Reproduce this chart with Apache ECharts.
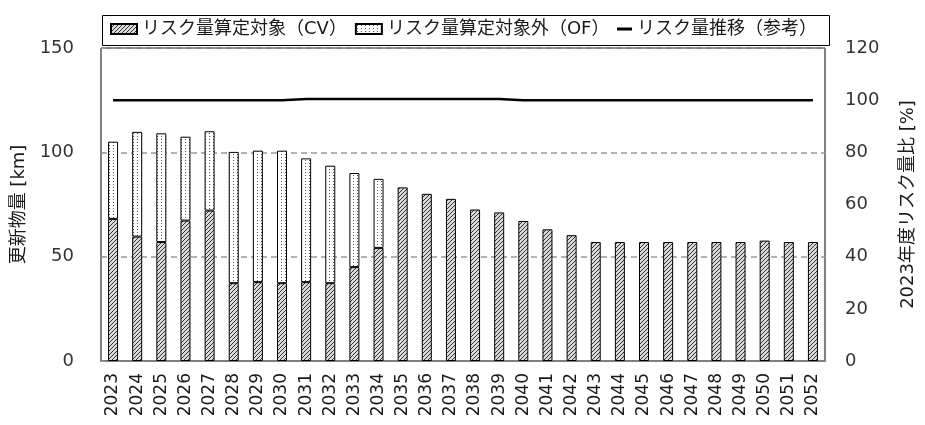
<!DOCTYPE html>
<html>
<head>
<meta charset="utf-8">
<script src="https://cdn.jsdelivr.net/npm/echarts@6/dist/echarts.min.js"></script>
<style>
  html, body { margin: 0; padding: 0; background: #fff; }
  #main { width: 925px; height: 425px; }
</style>
</head>
<body>
<div id="main"></div>
<script>
// 年度
const years = ['2023', '2024', '2025', '2026', '2027', '2028', '2029', '2030', '2031', '2032',
  '2033', '2034', '2035', '2036', '2037', '2038', '2039', '2040', '2041', '2042',
  '2043', '2044', '2045', '2046', '2047', '2048', '2049', '2050', '2051', '2052'];

// リスク量算定対象（CV） [km]
const cvValues = [68.1, 59.6, 57.0, 67.3, 72.1, 37.3, 37.8, 37.3, 37.8, 37.3,
  45.0, 54.2, 83.2, 80.1, 77.7, 72.6, 71.2, 67.1, 63.1, 60.3,
  57.0, 57.0, 57.0, 57.0, 57.0, 57.0, 57.0, 57.7, 57.0, 57.0];

// リスク量算定対象外（OF） [km]
const ofValues = [37.0, 50.2, 52.1, 40.2, 38.0, 62.9, 63.0, 63.5, 59.3, 56.3,
  45.1, 33.1, null, null, null, null, null, null, null, null,
  null, null, null, null, null, null, null, null, null, null];

// リスク量推移（参考） [%]
const riskRatio = [100, 100, 100, 100, 100, 100, 100, 100, 100.4, 100.4,
  100.4, 100.4, 100.4, 100.4, 100.4, 100.4, 100.4, 100, 100, 100,
  100, 100, 100, 100, 100, 100, 100, 100, 100, 100];

const seriesNames = ['リスク量算定対象（CV）', 'リスク量算定対象外（OF）', 'リスク量推移（参考）'];

const FONT = '"DejaVu Sans", "Noto Sans CJK JP", sans-serif';

// 斜線ハッチ
function makeHatch() {
  const c = document.createElement('canvas');
  c.width = 4; c.height = 4;
  const ctx = c.getContext('2d');
  ctx.fillStyle = '#d9d9d9';
  ctx.fillRect(0, 0, 4, 4);
  ctx.fillStyle = '#333333';
  ctx.fillRect(3, 0, 1, 1);
  ctx.fillRect(2, 1, 1, 1);
  ctx.fillRect(1, 2, 1, 1);
  ctx.fillRect(0, 3, 1, 1);
  return c;
}

// ドット
function makeDots() {
  const c = document.createElement('canvas');
  c.width = 4; c.height = 3;
  const ctx = c.getContext('2d');
  ctx.fillStyle = '#ffffff';
  ctx.fillRect(0, 0, 4, 3);
  ctx.fillStyle = '#555555';
  ctx.fillRect(1, 1, 1, 1);
  return c;
}

const hatchFill = { image: makeHatch(), repeat: 'repeat' };
const dotFill = { image: makeDots(), repeat: 'repeat' };

const chart = echarts.init(document.getElementById('main'), null, { renderer: 'canvas' });

const option = {
  backgroundColor: '#fff',
  animation: false,
  textStyle: { fontFamily: FONT },
  graphic: [{
    type: 'rect',
    left: 100,
    top: 13,
    shape: { width: 727, height: 30 },
    style: { fill: 'none', stroke: '#000', lineWidth: 1 },
    silent: true
  }],
  legend: [{
    left: 110,
    top: 20,
    padding: 0,
    itemGap: 8,
    itemWidth: 26,
    itemHeight: 10,
    icon: 'rect',
    data: [seriesNames[0], seriesNames[1]],
    textStyle: { fontSize: 18, color: '#1a1a1a', fontFamily: FONT }
  }, {
    left: 617,
    top: 20,
    padding: 0,
    itemWidth: 15,
    itemHeight: 3,
    icon: 'rect',
    data: [seriesNames[2]],
    textStyle: { fontSize: 18, color: '#1a1a1a', fontFamily: FONT }
  }],
  grid: {
    left: 101,
    right: 97,
    top: 48,
    bottom: 64,
    show: true,
    borderColor: '#000',
    borderWidth: 1,
    containLabel: false
  },
  xAxis: {
    type: 'category',
    data: years,
    axisLine: { lineStyle: { color: '#7f7f7f', width: 2 } },
    axisTick: { show: false },
    axisLabel: {
      rotate: 90,
      fontSize: 17,
      color: '#1a1a1a',
      margin: 12,
      interval: 0,
      fontFamily: FONT
    }
  },
  yAxis: [{
    type: 'value',
    min: 0,
    max: 150,
    interval: 50,
    name: '更新物量 [km]',
    nameLocation: 'middle',
    nameRotate: 90,
    nameGap: 68,
    nameTextStyle: { fontSize: 18, color: '#1a1a1a', fontFamily: FONT },
    axisLine: { show: false },
    axisTick: { show: true, inside: true, length: 4, lineStyle: { color: '#999' } },
    axisLabel: { fontSize: 18, color: '#333', margin: 27, fontFamily: FONT },
    splitLine: { show: true, lineStyle: { color: '#999', type: [6, 4], width: 1.5 } }
  }, {
    type: 'value',
    min: 0,
    max: 120,
    interval: 20,
    position: 'right',
    name: '2023年度リスク量比 [%]',
    nameLocation: 'middle',
    nameRotate: 90,
    nameGap: 74,
    nameTextStyle: { fontSize: 18, color: '#1a1a1a', fontFamily: FONT },
    axisLine: { show: false },
    axisTick: { show: false },
    axisLabel: { fontSize: 18, color: '#333', margin: 20, fontFamily: FONT },
    splitLine: { show: false }
  }],
  series: [{
    name: seriesNames[0],
    type: 'bar',
    stack: 'total',
    barWidth: 10,
    data: cvValues,
    itemStyle: { color: hatchFill, borderColor: '#000', borderWidth: 1 }
  }, {
    name: seriesNames[1],
    type: 'bar',
    stack: 'total',
    barWidth: 10,
    data: ofValues,
    itemStyle: { color: dotFill, borderColor: '#000', borderWidth: 1 }
  }, {
    name: seriesNames[2],
    type: 'line',
    yAxisIndex: 1,
    data: riskRatio,
    symbol: 'none',
    lineStyle: { color: '#000', width: 2.5 },
    itemStyle: { color: '#000' },
    z: 5
  }]
};

chart.setOption(option);
</script>
</body>
</html>
